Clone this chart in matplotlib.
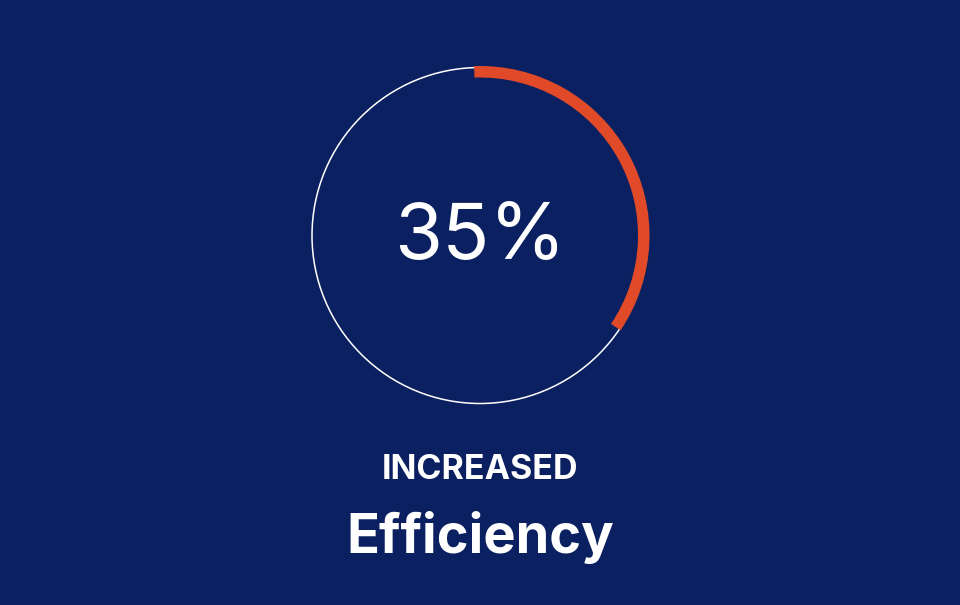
import matplotlib
matplotlib.use("Agg")
import matplotlib.pyplot as plt
from matplotlib.patches import Circle, Wedge

# gauge data
value = 35                 # percent
label_top = "INCREASED"
label_main = "Efficiency"

BG = "#0b2060"; RING = "#ffffff"; ARC = "#e04a28"; INK = "#ffffff"

W, H = 960, 605
fig = plt.figure(figsize=(W / 100, H / 100), dpi=100)
fig.patch.set_facecolor(BG)
ax = fig.add_axes([0, 0, 1, 1])
ax.set_facecolor(BG)
ax.set_xlim(0, W); ax.set_ylim(0, H)
ax.set_aspect("equal"); ax.axis("off")

cx, cy, r = 480, H - 235.5, 168
ax.add_patch(Circle((cx, cy), r, fill=False, edgecolor=RING, lw=1.1, zorder=2))
start = 92
end = start - value / 100 * 360
ax.add_patch(Wedge((cx, cy), r + 1.5, end, start, width=11.5,
                   facecolor=ARC, edgecolor="none", zorder=3))

ax.text(cx, H - 238, "{}%".format(value), ha="center", va="center",
        color=INK, fontsize=56, fontfamily="Inter")
ax.text(cx, H - 470, label_top, ha="center", va="center", color=INK,
        fontsize=24.5, fontweight="bold", fontfamily="Inter")
ax.text(cx, H - 538, label_main, ha="center", va="center", color=INK,
        fontsize=39, fontweight="bold", fontfamily="Inter")

fig.savefig("out.png", facecolor=BG)
